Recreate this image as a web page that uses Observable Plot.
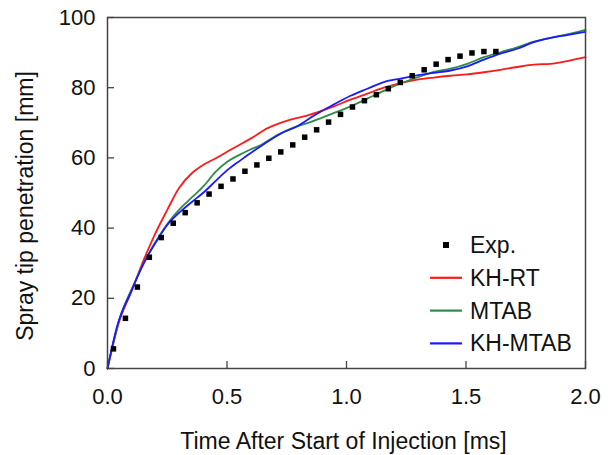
<!DOCTYPE html>
<html>
<head>
<meta charset="utf-8">
<script src="https://cdn.jsdelivr.net/npm/d3@7"></script>
<script src="https://cdn.jsdelivr.net/npm/@observablehq/plot@0.6"></script>
<style>
  html, body { margin: 0; padding: 0; background: #fff; }
  #chart { position: relative; width: 609px; height: 455px; }
  svg { font-family: "Liberation Sans", Arial, sans-serif; }
</style>
</head>
<body>
<div id="chart"></div>
<script>
// ---- Data ----
const expTime = [0.025,0.075,0.125,0.175,0.225,0.275,0.325,0.375,0.425,0.475,0.525,0.575,0.625,0.675,0.725,0.775,0.825,0.875,0.925,0.975,1.025,1.075,1.125,1.175,1.225,1.275,1.325,1.375,1.425,1.475,1.525,1.575,1.625];
const expPen  = [5.6,14.3,23.2,31.7,37.3,41.4,44.4,47.2,49.7,51.9,54.0,56.2,58.0,59.9,61.7,63.7,65.9,68.0,70.2,72.4,74.5,76.3,78.0,79.7,81.5,83.4,85.1,86.7,88.0,89.0,89.9,90.3,90.3];

const khrtTime = [0,0.047,0.103,0.152,0.194,0.25,0.298,0.354,0.403,0.459,0.515,0.57,0.612,0.654,0.71,0.766,0.821,0.877,0.947,1.017,1.087,1.156,1.226,1.296,1.365,1.435,1.505,1.575,1.644,1.714,1.784,1.854,1.923,2.0];
const khrtPen  = [0,13,22.4,31,37.6,45.2,51.3,55.7,58.1,60.1,62.3,64.4,66,67.9,69.6,70.9,71.8,73,74.7,76.6,78.3,80,81.3,82.3,82.9,83.4,83.8,84.4,85.1,85.9,86.6,86.8,87.6,88.7];

const mtabTime = [0,0.047,0.11,0.166,0.215,0.257,0.305,0.354,0.403,0.452,0.501,0.55,0.598,0.64,0.71,0.78,0.849,0.933,1.017,1.087,1.156,1.226,1.296,1.365,1.435,1.505,1.575,1.644,1.714,1.784,1.854,1.923,2.0];
const mtabPen  = [0,13.4,23.9,31.9,37.6,41.8,45.6,48.8,52.0,56.0,58.9,60.8,62.4,63.6,66.5,68.7,70.2,72.4,74.7,76.9,79.1,81.2,82.9,84.5,85.4,86.8,88.7,90.1,91.5,93.1,94.2,95.2,96.5];

const khmtabTime = [0,0.04,0.096,0.152,0.208,0.25,0.305,0.354,0.403,0.452,0.501,0.556,0.619,0.654,0.724,0.794,0.863,0.933,1.017,1.087,1.156,1.226,1.296,1.365,1.435,1.505,1.575,1.644,1.714,1.784,1.854,1.923,2.0];
const khmtabPen  = [0,12,21.5,30,36.6,40.9,44.7,47.5,50.2,53.4,56.5,59.3,62.3,63.9,66.9,69.0,72.0,74.7,77.7,79.7,81.6,82.6,83.5,84.2,84.9,86.1,88,89.7,91.1,93,94.2,95,95.9];

const xTicks = [0, 0.5, 1.0, 1.5, 2.0];
const yTicks = [0, 20, 40, 60, 80, 100];
const seriesNames = ["Exp.", "KH-RT", "MTAB", "KH-MTAB"];
const seriesColors = ["#000000", "#ff1a1a", "#2e8b4a", "#1a1aff"];

const xLabel = "Time After Start of Injection [ms]";
const yLabel = "Spray tip penetration [mm]";

// ---- Build tables ----
const zip = (ts, vs) => ts.map((t, i) => ({t, v: vs[i]}));
const exp = zip(expTime, expPen);
const lines = [
  {name: "KH-RT", data: zip(khrtTime, khrtPen), color: seriesColors[1]},
  {name: "MTAB", data: zip(mtabTime, mtabPen), color: seriesColors[2]},
  {name: "KH-MTAB", data: zip(khmtabTime, khmtabPen), color: seriesColors[3]}
];

const W = 609, H = 455;
const mL = 107, mR = 24, mT = 17, mB = 87;
const axisColor = "#444";

const chart = Plot.plot({
  width: W, height: H,
  marginLeft: mL, marginRight: mR, marginTop: mT, marginBottom: mB,
  style: {fontFamily: "'Liberation Sans', Arial, sans-serif", color: "#111", background: "#fff"},
  x: {domain: [0, 2]},
  y: {domain: [0, 100]},
  marks: [
    ...lines.map(s => Plot.line(s.data, {x: "t", y: "v", stroke: s.color, strokeWidth: 1.8, curve: "monotone-x"})),
    Plot.dot(exp, {x: "t", y: "v", symbol: "square", r: 3.1, fill: "#000", stroke: "none"}),
    Plot.frame({stroke: axisColor, strokeWidth: 1.5}),
    Plot.axisX({ticks: xTicks, tickSize: -7, tickPadding: 27, tickFormat: d3.format(".1f"), fontSize: 22, stroke: axisColor, strokeWidth: 1.3, label: null, color: "#111"}),
    Plot.axisY({ticks: yTicks, tickSize: -7, tickPadding: 19, fontSize: 22, stroke: axisColor, strokeWidth: 1.3, label: null, color: "#111"}),
    Plot.text([xLabel], {frameAnchor: "bottom", lineAnchor: "middle", textAnchor: "middle", dy: 73, dx: -3, fontSize: 23, fill: "#111"}),
    Plot.text([yLabel], {frameAnchor: "left", lineAnchor: "middle", textAnchor: "middle", rotate: -90, dx: -82, dy: 13, fontSize: 23, fill: "#111"})
  ]
});

document.getElementById("chart").appendChild(chart);

// ---- Legend inside plot (bottom right) ----
const svg = d3.select(chart);
const lg = svg.append("g").attr("class", "legend").attr("text-anchor", "start");
const lgX = 430, lgY0 = 245, lgStep = 32.8, swW = 32, txtX = 470;
seriesNames.forEach((name, i) => {
  const cy = lgY0 + i * lgStep;
  if (i === 0) {
    lg.append("rect").attr("x", lgX + swW / 2 - 3).attr("y", cy - 3).attr("width", 6).attr("height", 6).attr("fill", seriesColors[0]);
  } else {
    lg.append("line").attr("x1", lgX).attr("x2", lgX + swW).attr("y1", cy).attr("y2", cy)
      .attr("stroke", seriesColors[i]).attr("stroke-width", 2.2);
  }
  lg.append("text").attr("x", txtX).attr("y", cy).attr("dominant-baseline", "central")
    .attr("text-anchor", "start").attr("font-size", 23).attr("fill", "#111").text(name);
});
</script>
</body>
</html>
